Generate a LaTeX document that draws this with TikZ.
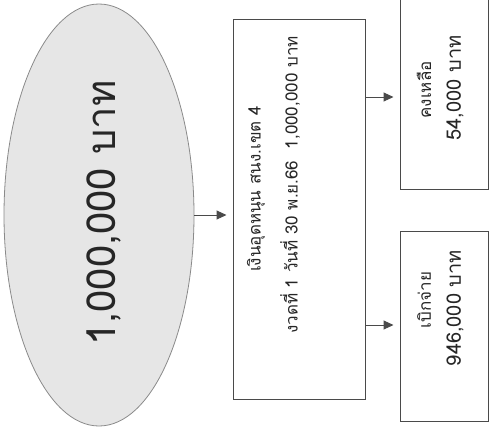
\documentclass[tikz,border=0pt]{standalone}
\usepackage{fontspec}
\newfontfamily\thaifont[Script=Thai]{Loma}
\usetikzlibrary{shapes.geometric,arrows.meta}
\definecolor{linegray}{HTML}{4A4A4A}
\definecolor{ellfill}{HTML}{E6E6E6}
\definecolor{ellline}{HTML}{8A8A8A}
\tikzset{
  boxnode/.style={draw=linegray, line width=1pt, rectangle, inner sep=0pt},
  arr/.style={-{Triangle[length=10pt,width=9pt]}, draw=linegray, fill=linegray, line width=1pt},
  txt/.style={rotate=90, font=\thaifont, text=black!85, inner sep=0pt},
}
\begin{document}
\begin{tikzpicture}[x=1pt,y=-1pt]
\useasboundingbox (0,0) rectangle (490,432);
% ellipse
\node[ellipse, draw=ellline, fill=ellfill, line width=0.8pt, minimum width=190pt, minimum height=422pt, inner sep=0pt] (ell) at (99,215) {};
\node[txt, font=\thaifont\fontsize{40}{44}\selectfont] (etxt) at (104,213) {1,000,000 บาท};
% middle box
\node[boxnode, minimum width=132pt, minimum height=380pt] (mid) at (299,209) {};
\node[txt, font=\thaifont\fontsize{17}{20}\selectfont] (m1) at (256,189) {เงินอุดหนุน สนง.เขต 4};
\node[txt, font=\thaifont\fontsize{17}{20}\selectfont] (m2) at (290,185) {งวดที่ 1 วันที่ 30 พ.ย.66 \ 1,000,000 บาท};
% right boxes
\node[boxnode, minimum width=88pt, minimum height=205pt] (top) at (444,87) {};
\node[boxnode, minimum width=88pt, minimum height=190pt] (bot) at (444,326) {};
\node[txt, font=\thaifont\fontsize{17}{20}\selectfont] (t1) at (424,90) {คงเหลือ};
\node[txt, font=\thaifont\fontsize{20}{24}\selectfont] (t2) at (455,88) {54,000 บาท};
\node[txt, font=\thaifont\fontsize{17}{20}\selectfont] (b1) at (424,300) {เบิกจ่าย};
\node[txt, font=\thaifont\fontsize{20}{24}\selectfont] (b2) at (455,308) {946,000 บาท};
% connectors
\coordinate (r1) at (0,97);
\coordinate (r2) at (0,325);
\draw[arr, shorten >=6pt] (ell.east) -- (ell.east -| mid.west);
\draw[arr, shorten >=6pt] (mid.east |- r1) -- (top.west |- r1);
\draw[arr, shorten >=6pt] (mid.east |- r2) -- (bot.west |- r2);
\end{tikzpicture}
\end{document}
